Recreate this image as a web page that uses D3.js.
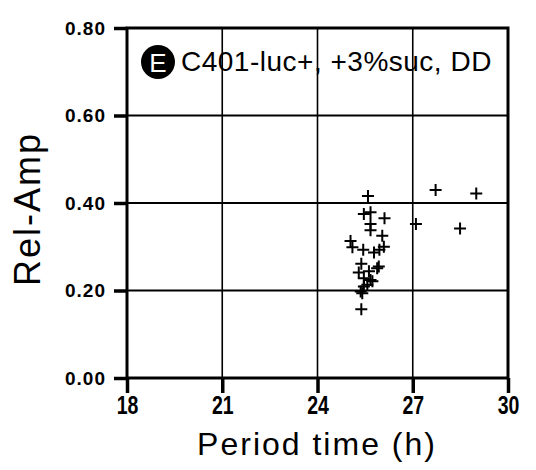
<!DOCTYPE html>
<html>
<head>
<meta charset="utf-8">
<script src="https://cdn.jsdelivr.net/npm/d3@7"></script>
<style>
  body { margin: 0; background: #fff; }
  text { font-family: "Liberation Sans", Arial, sans-serif; fill: #000; }
</style>
</head>
<body>
<div id="chart-container"></div>
<script>
const margin = { top: 28, right: 28, bottom: 92, left: 127 };
const width = 536 - margin.left - margin.right;
const height = 470 - margin.top - margin.bottom;

// Data
const periodHours = [25.59, 27.72, 29.0, 25.46, 25.67, 26.11, 25.67, 25.67, 27.10, 28.49,
    26.04, 25.04, 25.10, 25.44, 25.78, 25.95, 26.09, 25.38, 25.88, 25.93,
    25.30, 25.62, 25.46, 25.67, 25.73, 25.57, 25.46, 25.36, 25.41, 25.38];
const relAmp = [0.416, 0.430, 0.422, 0.375, 0.379, 0.365, 0.352, 0.338, 0.352, 0.342,
    0.325, 0.313, 0.299, 0.293, 0.287, 0.293, 0.300, 0.261, 0.251, 0.255,
    0.241, 0.244, 0.228, 0.224, 0.221, 0.213, 0.209, 0.198, 0.194, 0.157];
const xTicks = [18, 21, 24, 27, 30];
const yTicks = [0, 0.2, 0.4, 0.6, 0.8];

const xAxisName = "Period time (h)";
const yAxisName = "Rel-Amp";
const panelLetter = "E";
const panelLabel = "C401-luc+, +3%suc, DD";

var svg = d3.select("#chart-container")
    .append("svg")
    .attr("width", width + margin.left + margin.right)
    .attr("height", height + margin.top + margin.bottom)
    .append("g")
    .attr("transform", `translate(${margin.left}, ${margin.top})`);

var xScale = d3.scaleLinear().domain([18, 30]).range([0, width]);
var yScale = d3.scaleLinear().domain([0, 0.8]).range([height, 0]);

// Vertical gridlines (thin)
svg.append("g")
    .selectAll("line")
    .data(xTicks.slice(1, -1))
    .join("line")
    .attr("x1", d => xScale(d)).attr("x2", d => xScale(d))
    .attr("y1", 0).attr("y2", height)
    .attr("stroke", "#000")
    .attr("stroke-width", 1.6);

// Horizontal gridlines
svg.append("g")
    .selectAll("line")
    .data(yTicks.slice(1, -1))
    .join("line")
    .attr("x1", 0).attr("x2", width)
    .attr("y1", d => yScale(d)).attr("y2", d => yScale(d))
    .attr("stroke", "#000")
    .attr("stroke-width", 2);

// Frame
svg.append("rect")
    .attr("width", width)
    .attr("height", height)
    .attr("fill", "none")
    .attr("stroke", "#000")
    .attr("stroke-width", 3);

// x-axis
var xAxis = svg.append("g")
    .attr("transform", `translate(0, ${height})`)
    .call(d3.axisBottom(xScale).tickValues(xTicks).tickSize(15).tickPadding(3).tickFormat(d3.format("d")));
xAxis.select(".domain").remove();
xAxis.selectAll(".tick line").attr("stroke-width", 3.5);
xAxis.selectAll(".tick text")
    .style("font-size", "25px")
    .style("font-weight", "bold")
    .attr("transform", "scale(0.78,1)");

// y-axis
var yAxis = svg.append("g")
    .call(d3.axisLeft(yScale).tickValues(yTicks).tickSize(13).tickPadding(8).tickFormat(d3.format(".2f")));
yAxis.select(".domain").remove();
yAxis.selectAll(".tick line").attr("stroke-width", 3.5);
yAxis.selectAll(".tick text")
    .style("font-size", "19px")
    .style("font-weight", "600")
    .style("letter-spacing", "1px");

// Axis labels
svg.append("text")
    .attr("x", 190)
    .attr("y", height + 77)
    .attr("text-anchor", "middle")
    .style("font-size", "32px")
    .style("letter-spacing", "2px")
    .text(xAxisName);

svg.append("text")
    .attr("transform", "rotate(-90)")
    .attr("x", -181)
    .attr("y", -87)
    .attr("text-anchor", "middle")
    .style("font-size", "36px")
    .style("letter-spacing", "2px")
    .text(yAxisName);

// Panel label
svg.append("circle")
    .attr("cx", 31)
    .attr("cy", 34)
    .attr("r", 17)
    .attr("fill", "#000");
svg.append("text")
    .attr("x", 31)
    .attr("y", 44)
    .attr("text-anchor", "middle")
    .style("font-size", "26px")
    .style("fill", "#fff")
    .text(panelLetter);
svg.append("text")
    .attr("x", 54)
    .attr("y", 43)
    .style("font-size", "28px")
    .style("letter-spacing", "0.5px")
    .text(panelLabel);

// Points as plus marks
var pts = periodHours.map((p, i) => ({ period: p, amp: relAmp[i] }));
svg.append("g")
    .selectAll("path")
    .data(pts)
    .join("path")
    .attr("transform", d => `translate(${xScale(d.period)}, ${yScale(d.amp)})`)
    .attr("d", "M-6,0H6M0,-6V6")
    .attr("stroke", "#000")
    .attr("stroke-width", 2)
    .attr("fill", "none");
</script>
</body>
</html>
